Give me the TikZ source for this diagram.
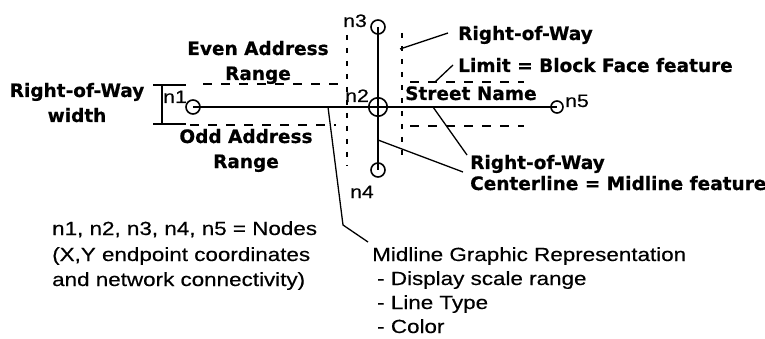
\documentclass[tikz,border=0pt]{standalone}
\usepackage{fontspec}
\setmainfont{Liberation Sans}
\newfontfamily\widefont{Liberation Sans}[FakeStretch=1.18,FakeBold=0.4]
\newfontfamily\heavyfont{DejaVu Sans}[BoldFeatures={FakeBold=0.6}]
\begin{document}
\begin{tikzpicture}[x=1pt,y=-1pt,
  bl/.style={font=\heavyfont\bfseries\fontsize{18.5}{22}\selectfont, inner sep=0pt},
  rg/.style={font=\widefont\fontsize{19}{22}\selectfont, inner sep=0pt, anchor=base west},
  nl/.style={font=\widefont\fontsize{18}{20}\selectfont, inner sep=0pt, anchor=base west},
  road/.style={line width=2.2pt},
  ring/.style={circle, draw, line width=1.6pt, inner sep=0pt},
  limitline/.style={line width=2pt, dash pattern=on 9pt off 9pt},
  limitvert/.style={line width=2pt, dash pattern=on 5pt off 8pt},
  leader/.style={line width=1.3pt},
  dimline/.style={line width=1.4pt}
]
\useasboundingbox (0,0) rectangle (765,339);
\fill[white] (0,0) rectangle (765,339);

% network nodes
\node[ring, minimum size=14pt] (n1) at (193,107) {};
\node[ring, minimum size=18.5pt] (n2) at (378,107) {};
\node[ring, minimum size=14pt] (n3) at (378,27) {};
\node[ring, minimum size=14pt] (n4) at (378,170) {};
\node[ring, minimum size=12pt] (n5) at (557,107) {};

% midlines
\draw[road] (n1.center) -- (n5.center);
\draw[road] (n3.center) -- (n4.center);

% node labels
\node[nl] (l1) at (163,103) {n1};
\node[nl] (l2) at (345,102) {n2};
\node[nl] (l3) at (343,27) {n3};
\node[nl] (l4) at (350,198) {n4};
\node[nl] (l5) at (565,107) {n5};

% right-of-way limits
\coordinate (ula) at (203,84);  \coordinate (ulb) at (340,84);
\coordinate (lla) at (190,125); \coordinate (llb) at (336,125);
\coordinate (ura) at (410,82);  \coordinate (urb) at (524,82);
\coordinate (lra) at (410,126); \coordinate (lrb) at (524,126);
\coordinate (vla) at (347,35);  \coordinate (vlb) at (347,166);
\coordinate (vra) at (402,33);  \coordinate (vrb) at (402,162);
\draw[limitline] (ula) -- (ulb);
\draw[limitline] (lla) -- (llb);
\draw[limitline] (ura) -- (urb);
\draw[limitline] (lra) -- (lrb);
\draw[limitvert] (vla) -- (vlb);
\draw[limitvert] (vra) -- (vrb);

% width dimension
\coordinate (dta) at (153,85); \coordinate (dtb) at (186,85);
\coordinate (dba) at (153,124); \coordinate (dbb) at (186,124);
\coordinate (dvt) at (162,85); \coordinate (dvb) at (162,124);
\draw[dimline] (dta) -- (dtb);
\draw[dimline] (dba) -- (dbb);
\draw[dimline] (dvt) -- (dvb);

% bold labels
\node[bl, anchor=base] (rw1) at (77,97) {Right-of-Way};
\node[bl, anchor=base] (rw2) at (77,122) {width};
\node[bl, anchor=base] (ev1) at (258,55) {Even Address};
\node[bl, anchor=base] (ev2) at (258,80) {Range};
\node[bl, anchor=base] (od1) at (246,143) {Odd Address};
\node[bl, anchor=base] (od2) at (246,168) {Range};
\node[bl, anchor=base west] (sn) at (405,100) {Street Name};
\node[bl, anchor=base west] (lim1) at (458,40) {Right-of-Way};
\node[bl, anchor=base west] (lim2) at (458,72) {Limit = Block Face feature};
\node[bl, anchor=base west] (cl1) at (470,169) {Right-of-Way};
\node[bl, anchor=base west] (cl2) at (470,190) {Centerline = Midline feature};

% regular labels
\node[rg] (nd1) at (52,235) {n1, n2, n3, n4, n5 = Nodes};
\node[rg] (nd2) at (52,261) {(X,Y endpoint coordinates};
\node[rg] (nd3) at (52,286) {and network connectivity)};
\node[rg] (mg1) at (372,261) {Midline Graphic Representation};
\node[rg] (mg2) at (377,285) {- Display scale range};
\node[rg] (mg3) at (377,309) {- Line Type};
\node[rg] (mg4) at (377,333) {- Color};

% leaders
\coordinate (a1) at (448,33);  \coordinate (b1) at (400,49);
\coordinate (a2) at (453,65);  \coordinate (b2) at (435,82);
\coordinate (a3) at (467,155); \coordinate (b3) at (433,107);
\coordinate (a4) at (463,172); \coordinate (b4) at (378,140);
\coordinate (a5) at (328,107); \coordinate (k5) at (343,225); \coordinate (b5) at (368,242);
\draw[leader] (a1) -- (b1);
\draw[leader] (a2) -- (b2);
\draw[leader] (a3) -- (b3);
\draw[leader] (a4) -- (b4);
\draw[leader] (a5) -- (k5) -- (b5);
\end{tikzpicture}
\end{document}
